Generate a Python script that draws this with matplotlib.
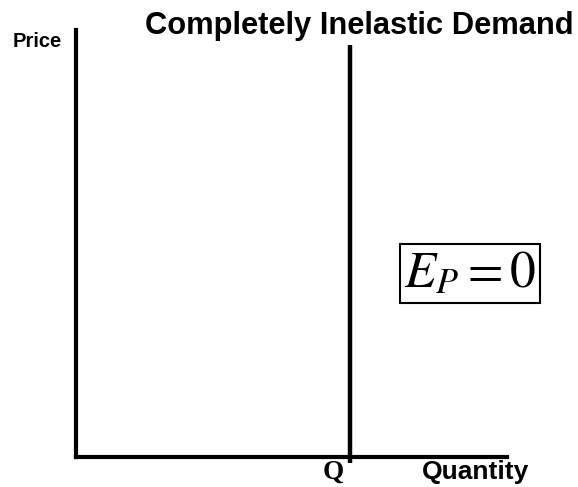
"""Completely inelastic demand: a vertical demand curve at a fixed quantity."""
import matplotlib
matplotlib.use("Agg")
import matplotlib.pyplot as plt
import matplotlib.transforms as mtransforms

# axis ranges (arbitrary units)
QUANTITY_RANGE = [0, 10]
PRICE_RANGE = [0, 10]

# demand is fixed at Q* whatever the price
Q_STAR = 6.36
DEMAND_PRICES = [-0.14, 9.65]

TITLE = "Completely Inelastic Demand"
X_LABEL = "Quantity"
Y_LABEL = "Price"
Q_LABEL = "Q"
ELASTICITY_LABEL = r"$E_P = 0$"

W, H, DPI = 578, 487, 100

fig = plt.figure(figsize=(W / DPI, H / DPI), dpi=DPI)
# axes box in pixels: left spine at x=76, bottom spine at y=457
ax = fig.add_axes([76 / W, 30 / H, 431 / W, 427 / H])
ax.set_xlim(QUANTITY_RANGE)
ax.set_ylim(PRICE_RANGE)

for side in ("top", "right"):
    ax.spines[side].set_visible(False)
for side in ("left", "bottom"):
    ax.spines[side].set_linewidth(3.0)
    ax.spines[side].set_color("black")
ax.set_xticks([])
ax.set_yticks([])

ax.vlines(Q_STAR, DEMAND_PRICES[0], DEMAND_PRICES[1], color="black",
          linewidth=3.2, clip_on=False)

ax.text(0.657, 0.99, TITLE, transform=ax.transAxes, ha="center", va="baseline",
        fontsize=22.2, fontweight="bold", family="Liberation Sans")
ax.text(-0.146, 0.974, Y_LABEL, transform=ax.transAxes, ha="left", va="center",
        fontsize=14.5, fontweight="bold", family="Liberation Sans")
ax.text(0.926, -0.035, X_LABEL, transform=ax.transAxes, ha="center", va="center",
        fontsize=19, fontweight="bold", family="Liberation Sans")

# Q sits just left of the demand line, under the axis
trans = mtransforms.blended_transform_factory(ax.transData, ax.transAxes)
ax.annotate(Q_LABEL, xy=(Q_STAR, -0.035), xycoords=trans,
            xytext=(-6, 0), textcoords="offset pixels",
            ha="right", va="center",
            fontsize=19.5, fontweight="bold", family="Liberation Serif")

plt.rcParams["mathtext.fontset"] = "stix"
ax.text(0.914, 0.43, ELASTICITY_LABEL, transform=ax.transAxes,
        ha="center", va="center", fontsize=37,
        bbox=dict(boxstyle="square,pad=0.08", facecolor="white",
                  edgecolor="black", linewidth=1.5))

fig.savefig("out.png", dpi=DPI)
